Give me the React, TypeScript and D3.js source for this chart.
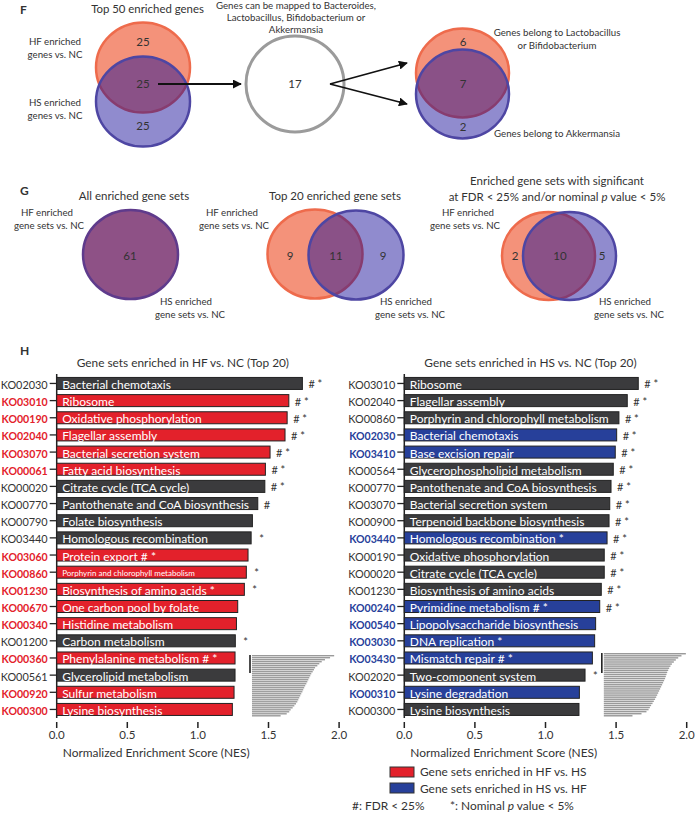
import React from "react";
import * as d3 from "d3";

const leftCodes = ["KO02030","KO03010","KO00190","KO02040","KO03070","KO00061","KO00020","KO00770","KO00790","KO03440","KO03060","KO00860","KO01230","KO00670","KO00340","KO01200","KO00360","KO00561","KO00920","KO00300"];
const leftNames = ["Bacterial chemotaxis","Ribosome","Oxidative phosphorylation","Flagellar assembly","Bacterial secretion system","Fatty acid biosynthesis","Citrate cycle (TCA cycle)","Pantothenate and CoA biosynthesis","Folate biosynthesis","Homologous recombination","Protein export # *","Porphyrin and chlorophyll metabolism","Biosynthesis of amino acids *","One carbon pool by folate","Histidine metabolism","Carbon metabolism","Phenylalanine metabolism # *","Glycerolipid metabolism","Sulfur metabolism","Lysine biosynthesis"];
const leftNES = [1.740,1.644,1.632,1.617,1.511,1.478,1.474,1.424,1.386,1.377,1.355,1.343,1.329,1.282,1.273,1.265,1.263,1.263,1.256,1.244];
const leftGroup = ["n","HF","HF","HF","HF","HF","n","n","n","n","HF","HF","HF","HF","HF","n","HF","n","HF","HF"];
const leftMarks = ["# *","# *","# *","# *","# *","# *","# *","#","","*","","*","*","","","*","","","",""];

const rightCodes = ["KO03010","KO02040","KO00860","KO02030","KO03410","KO00564","KO00770","KO03070","KO00900","KO03440","KO00190","KO00020","KO01230","KO00240","KO00540","KO03030","KO03430","KO02020","KO00310","KO00300"];
const rightNames = ["Ribosome","Flagellar assembly","Porphyrin and chlorophyll metabolism","Bacterial chemotaxis","Base excision repair","Glycerophospholipid metabolism","Pantothenate and CoA biosynthesis","Bacterial secretion system","Terpenoid backbone biosynthesis","Homologous recombination *","Oxidative phosphorylation","Citrate cycle (TCA cycle)","Biosynthesis of amino acids","Pyrimidine metabolism # *","Lipopolysaccharide biosynthesis","DNA replication *","Mismatch repair # *","Two-component system","Lysine degradation","Lysine biosynthesis"];
const rightNES = [1.657,1.579,1.520,1.504,1.494,1.480,1.464,1.455,1.450,1.436,1.416,1.416,1.395,1.384,1.355,1.348,1.332,1.280,1.240,1.237];
const rightGroup = ["n","n","n","HS","HS","n","n","n","n","HS","n","n","n","HS","HS","HS","HS","n","HS","n"];
const rightMarks = ["# *","# *","# *","# *","# *","# *","# *","# *","# *","# *","# *","# *","# *","# *","","","","*","",""];

const leftInset = [1.965,1.936,1.900,1.877,1.860,1.846,1.830,1.822,1.813,1.803,1.796,1.789,1.782,1.775,1.768,1.760,1.753,1.746,1.740,1.732,1.725,1.718,1.711,1.704,1.695,1.683,1.671,1.657,1.647,1.629,1.586];
const rightInset = [1.994,1.963,1.940,1.923,1.909,1.895,1.885,1.876,1.869,1.862,1.857,1.852,1.847,1.840,1.833,1.826,1.819,1.812,1.805,1.798,1.791,1.784,1.776,1.767,1.758,1.748,1.739,1.730,1.715,1.680,1.616];

const xTicks = [0, 0.5, 1.0, 1.5, 2.0];

const FONT = "Lato, 'Open Sans', sans-serif";
const RED = "#e3212b";
const BLUE = "#27409a";
const DARK = "#3b3b3d";
const ORANGE_FILL = "rgba(240,110,78,0.75)";
const ORANGE_STROKE = "#ee6b4c";
const BLUE_FILL = "rgba(20,8,150,0.47)";
const BLUE_STROKE = "#4e46a3";
const SMALL = 9.7;
const TITLE = 11.5;

function BarPanel({ x0, codes, names, nes, groups, marks, title, inset, insetStart, insetLine, groupKey, groupColor, smallLabel }) {
  const x = d3.scaleLinear().domain([0, 2]).range([x0, x0 + 282.4]);
  const y = d3.scaleBand().domain(codes.map((c, i) => String(i))).range([372.3, 720.6]).paddingInner(0.3).paddingOuter(0.3);
  const bw = y.bandwidth();
  const yi = d3.scaleBand().domain(inset.map((v, i) => String(i))).range([insetLine[1], 716.5]).paddingInner(0.3).paddingOuter(0);
  return (
    <g fontFamily={FONT}>
      <text x={(x(0) + x(2)) / 2 - 15} y={367} fontSize={11.85} textAnchor="middle" fill="#333">{title}</text>
      <line x1={x(0)} x2={x(0)} y1={374} y2={718} stroke="#222" strokeWidth={1.5} />
      {codes.map((c, i) => {
        const yy = y(String(i));
        const g = groups[i];
        const hi = g === groupKey;
        const fill = hi ? groupColor : DARK;
        return (
          <g key={c + i}>
            <line x1={x(0) - 7} x2={x(0)} y1={yy + bw / 2} y2={yy + bw / 2} stroke="#222" strokeWidth={1.3} />
            <text x={x(0) - 9} y={yy + bw - 0.5} fontSize={hi ? 10.6 : 10.9} textAnchor="end" fontWeight={hi ? 700 : 400} fill={hi ? groupColor : "#333"}>{c}</text>
            <rect x={x(0)} y={yy} width={x(nes[i]) - x(0)} height={bw} fill={fill} stroke="#222" strokeWidth={1} />
            <text x={x(0) + 5.5} y={yy + bw - (smallLabel === i ? 2 : 0.5)} fontSize={smallLabel === i ? 8.0 : 12.0} fill="#fff">{names[i]}</text>
            {marks[i] && (
              <text x={x(nes[i]) + (marks[i] === "*" ? 8 : 6)} y={yy + bw - 1} fontSize={11} fill="#333">{marks[i]}</text>
            )}
          </g>
        );
      })}
      {xTicks.map((t) => (
        <g key={t}>
          <line x1={x(t)} x2={x(t)} y1={722} y2={728} stroke="#222" strokeWidth={1.5} />
          <text x={x(t)} y={739} fontSize={11.5} textAnchor="middle" fill="#333">{t.toFixed(1)}</text>
        </g>
      ))}
      <text x={x(0) + 99.5} y={757} fontSize={11.95} textAnchor="middle" fill="#333">Normalized Enrichment Score (NES)</text>
      <line x1={x(insetLine[0])} x2={x(insetLine[0])} y1={insetLine[1]} y2={673} stroke="#111" strokeWidth={1.5} />
      {inset.map((v, i) => (
        <rect key={i} x={x(insetStart)} y={yi(String(i))} width={x(v) - x(insetStart)} height={yi.bandwidth()} fill="#9a9a9a" />
      ))}
    </g>
  );
}

function Venn2({ cx1, cx2, cy1, cy2, rx, ry }) {
  return (
    <g>
      <ellipse cx={cx1} cy={cy1} rx={rx} ry={ry} fill={ORANGE_FILL} stroke={ORANGE_STROKE} strokeWidth={2.5} />
      <ellipse cx={cx2} cy={cy2} rx={rx} ry={ry} fill={BLUE_FILL} stroke={BLUE_STROKE} strokeWidth={2.5} />
    </g>
  );
}

export default function App() {
  const t = { fontFamily: FONT, fill: "#333" };
  return (
    <svg width={696} height={814} style={{ position: "absolute", left: 0, top: 0, background: "#fff" }}>
      <defs>
        <marker id="ah" viewBox="0 0 10 10" refX="9" refY="5" markerWidth="5" markerHeight="5" markerUnits="strokeWidth" orient="auto">
          <path d="M0,0 L10,5 L0,10 z" fill="#111" />
        </marker>
      </defs>
      {/* Section F */}
      <text x={20} y={14} fontSize={12} fontWeight={700} {...t}>F</text>
      <text x={147.5} y={13} fontSize={11.4} textAnchor="middle" {...t}>Top 50 enriched genes</text>
      <text fontSize={SMALL} textAnchor="middle" {...t}>
        <tspan x={296} y={9}>Genes can be mapped to Bacteroides,</tspan>
        <tspan x={296} y={21}>Lactobacillus, Bifidobacterium or</tspan>
        <tspan x={296} y={33}>Akkermansia</tspan>
      </text>
      <text fontSize={SMALL} textAnchor="middle" {...t}>
        <tspan x={55} y={45}>HF enriched</tspan>
        <tspan x={55} y={58}>genes vs. NC</tspan>
        <tspan x={55} y={106}>HS enriched</tspan>
        <tspan x={55} y={119}>genes vs. NC</tspan>
      </text>
      <Venn2 cx1={143} cx2={143} cy1={67.5} cy2={101.5} rx={47} ry={45} />
      <text fontSize={11.5} textAnchor="middle" {...t}>
        <tspan x={143} y={46}>25</tspan>
        <tspan x={143} y={88}>25</tspan>
        <tspan x={143} y={130}>25</tspan>
      </text>
      <line x1={158} y1={84} x2={241} y2={84} stroke="#111" strokeWidth={1.8} markerEnd="url(#ah)" />
      <ellipse cx={295} cy={84} rx={49} ry={48} fill="#fff" stroke="#9b9b9b" strokeWidth={3} />
      <text x={295} y={88} fontSize={11.5} textAnchor="middle" {...t}>17</text>
      <line x1={330} y1={84} x2={407} y2={63} stroke="#111" strokeWidth={1.8} markerEnd="url(#ah)" />
      <line x1={330} y1={84} x2={407} y2={104} stroke="#111" strokeWidth={1.8} markerEnd="url(#ah)" />
      <Venn2 cx1={462.5} cx2={462.5} cy1={73} cy2={94} rx={46.5} ry={44.5} />
      <text fontSize={11.5} textAnchor="middle" {...t}>
        <tspan x={463} y={46}>6</tspan>
        <tspan x={463} y={88}>7</tspan>
        <tspan x={463} y={131}>2</tspan>
      </text>
      <text fontSize={SMALL} textAnchor="middle" {...t}>
        <tspan x={557} y={36}>Genes belong to Lactobacillus</tspan>
        <tspan x={557} y={49}>or Bifidobacterium</tspan>
        <tspan x={557} y={137}>Genes belong to Akkermansia</tspan>
      </text>

      {/* Section G */}
      <text x={20} y={195} fontSize={12} fontWeight={700} {...t}>G</text>
      <text x={134} y={200} fontSize={TITLE} textAnchor="middle" {...t}>All enriched gene sets</text>
      <text x={335} y={200} fontSize={TITLE} textAnchor="middle" {...t}>Top 20 enriched gene sets</text>
      <text fontSize={TITLE} textAnchor="middle" {...t}>
        <tspan x={557} y={185}>Enriched gene sets with significant</tspan>
        <tspan x={557} y={201}>at FDR &lt; 25% and/or nominal <tspan fontStyle="italic">p</tspan> value &lt; 5%</tspan>
      </text>
      <text fontSize={SMALL} textAnchor="middle" {...t}>
        <tspan x={47} y={216}>HF enriched</tspan>
        <tspan x={49} y={229}>gene sets vs. NC</tspan>
        <tspan x={232} y={216}>HF enriched</tspan>
        <tspan x={234} y={229}>gene sets vs. NC</tspan>
        <tspan x={468} y={216}>HF enriched</tspan>
        <tspan x={465} y={229}>gene sets vs. NC</tspan>
        <tspan x={186} y={305}>HS enriched</tspan>
        <tspan x={190} y={318}>gene sets vs. NC</tspan>
        <tspan x={406} y={305}>HS enriched</tspan>
        <tspan x={410} y={318}>gene sets vs. NC</tspan>
        <tspan x={625} y={305}>HS enriched</tspan>
        <tspan x={629} y={318}>gene sets vs. NC</tspan>
      </text>
      <ellipse cx={130.5} cy={254.5} rx={47.5} ry={44.5} fill="#8e5186" stroke="#5f3b8c" strokeWidth={2.5} />
      <Venn2 cx1={315} cx2={356} cy1={254} cy2={255} rx={47.5} ry={44.5} />
      <Venn2 cx1={548.5} cx2={569.5} cy1={256} cy2={256} rx={46.5} ry={44} />
      <text fontSize={11.5} textAnchor="middle" {...t}>
        <tspan x={130} y={260}>61</tspan>
        <tspan x={290} y={260}>9</tspan>
        <tspan x={336} y={260}>11</tspan>
        <tspan x={383} y={260}>9</tspan>
        <tspan x={515} y={260}>2</tspan>
        <tspan x={560} y={260}>10</tspan>
        <tspan x={602} y={260}>5</tspan>
      </text>

      {/* Section H */}
      <text x={20} y={355} fontSize={12} fontWeight={700} {...t}>H</text>
      <BarPanel x0={56.7} codes={leftCodes} names={leftNames} nes={leftNES} groups={leftGroup} marks={leftMarks}
        title="Gene sets enriched in HF vs. NC (Top 20)" inset={leftInset} insetStart={1.383} insetLine={[1.369, 655]}
        groupKey="HF" groupColor={RED} smallLabel={11} />
      <BarPanel x0={404.3} codes={rightCodes} names={rightNames} nes={rightNES} groups={rightGroup} marks={rightMarks}
        title="Gene sets enriched in HS vs. NC (Top 20)" inset={rightInset} insetStart={1.413} insetLine={[1.399, 653]}
        groupKey="HS" groupColor={BLUE} smallLabel={-1} />

      {/* Legend */}
      <rect x={390} y={767} width={24} height={10} fill={RED} stroke="#333" strokeWidth={1} />
      <rect x={390} y={783} width={24} height={10} fill={BLUE} stroke="#333" strokeWidth={1} />
      <text fontSize={11.9} {...t}>
        <tspan x={420} y={776}>Gene sets enriched in HF vs. HS</tspan>
        <tspan x={420} y={793}>Gene sets enriched in HS vs. HF</tspan>
      </text>
      <text x={352} y={810} fontSize={11.9} {...t}>#: FDR &lt; 25%</text>
      <text x={450} y={810} fontSize={11.9} {...t}>*: Nominal <tspan fontStyle="italic">p</tspan> value &lt; 5%</text>
    </svg>
  );
}
